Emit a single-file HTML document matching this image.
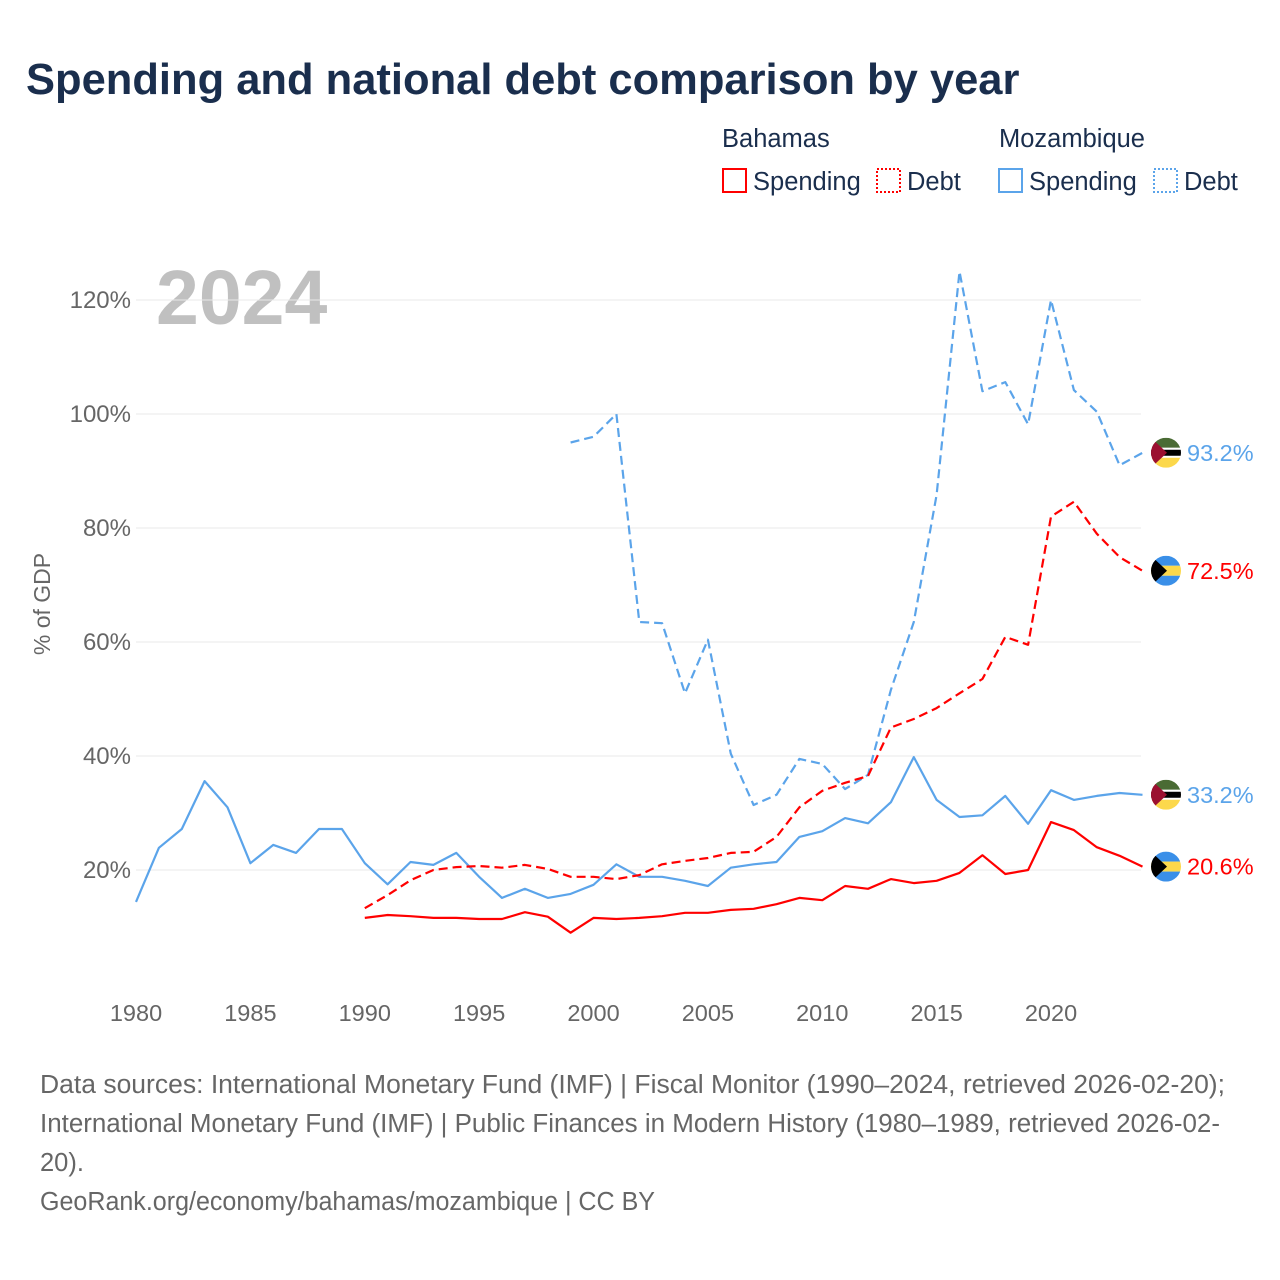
<!DOCTYPE html>
<html><head><meta charset="utf-8"><style>
body{margin:0;background:#fff;font-family:"Liberation Sans",sans-serif;}
#wrap{position:relative;width:1280px;height:1280px;overflow:hidden;}
</style></head><body>
<div id="wrap">
<svg id="chart" width="1280" height="1280" style="position:absolute;left:0;top:0">
<text x="26" y="94" font-size="43.5" font-weight="bold" fill="#1a2e4d">Spending and national debt comparison by year</text>
<g font-size="25.5" fill="#1a2e4d">
<text x="722" y="147">Bahamas</text>
<text x="999" y="147">Mozambique</text>
<g><rect x="723" y="169" width="23" height="23" fill="none" stroke="#f00" stroke-width="2"/><text x="753" y="190">Spending</text></g>
<g><rect x="877" y="169" width="23" height="23" fill="none" stroke="#f00" stroke-width="2" stroke-dasharray="2,2"/><text x="907" y="190">Debt</text></g>
<g><rect x="999" y="169" width="23" height="23" fill="none" stroke="#5ba4ea" stroke-width="2"/><text x="1029" y="190">Spending</text></g>
<g><rect x="1154" y="169" width="23" height="23" fill="none" stroke="#5ba4ea" stroke-width="2" stroke-dasharray="2,2"/><text x="1184" y="190">Debt</text></g>
</g>
<text x="156" y="324" font-size="77" font-weight="bold" fill="#c0c0c0">2024</text>
<text transform="translate(50,604) rotate(-90)" text-anchor="middle" font-size="23" fill="#666">% of GDP</text>
<g id="grid"></g><g id="xt"></g><g id="series"></g><g id="ends"></g>
<g font-size="25.5" fill="#666">
<text x="40" y="1093" textLength="1185" lengthAdjust="spacingAndGlyphs">Data sources: International Monetary Fund (IMF) | Fiscal Monitor (1990–2024, retrieved 2026-02-20);</text>
<text x="40" y="1132" textLength="1180" lengthAdjust="spacingAndGlyphs">International Monetary Fund (IMF) | Public Finances in Modern History (1980–1989, retrieved 2026-02-</text>
<text x="40" y="1171">20).</text>
<text x="40" y="1210" textLength="615" lengthAdjust="spacingAndGlyphs">GeoRank.org/economy/bahamas/mozambique | CC BY</text>
</g>
</svg></div>
<script>
const yTicks=[20,40,60,80,100,120];
const xTicks=[1980,1985,1990,1995,2000,2005,2010,2015,2020];
const mozSpendYears=[1980,1981,1982,1983,1984,1985,1986,1987,1988,1989,1990,1991,1992,1993,1994,1995,1996,1997,1998,1999,2000,2001,2002,2003,2004,2005,2006,2007,2008,2009,2010,2011,2012,2013,2014,2015,2016,2017,2018,2019,2020,2021,2022,2023,2024];
const mozSpend=[14.4,23.9,27.2,35.6,31,21.2,24.4,23,27.2,27.2,21.2,17.5,21.4,20.9,23,18.8,15.1,16.7,15.1,15.8,17.4,21,18.8,18.8,18.1,17.2,20.4,21,21.4,25.8,26.8,29.1,28.2,31.9,39.8,32.3,29.3,29.6,33,28.1,34,32.3,33,33.5,33.2];
const bahYears=[1990,1991,1992,1993,1994,1995,1996,1997,1998,1999,2000,2001,2002,2003,2004,2005,2006,2007,2008,2009,2010,2011,2012,2013,2014,2015,2016,2017,2018,2019,2020,2021,2022,2023,2024];
const bahSpend=[11.6,12.1,11.9,11.6,11.6,11.4,11.4,12.6,11.8,9,11.6,11.4,11.6,11.9,12.5,12.5,13,13.2,14,15.1,14.7,17.2,16.7,18.4,17.7,18.1,19.5,22.6,19.3,20,28.4,27,24,22.5,20.6];
const bahDebt=[13.3,15.6,18.2,20,20.5,20.7,20.4,20.9,20.2,18.8,18.8,18.4,19.1,21,21.6,22.1,23,23.2,25.8,31,33.9,35.3,36.5,45,46.5,48.4,51,53.5,60.9,59.5,82,84.6,79,74.9,72.5];
const mozDebtYears=[1999,2000,2001,2002,2003,2004,2005,2006,2007,2008,2009,2010,2011,2012,2013,2014,2015,2016,2017,2018,2019,2020,2021,2022,2023,2024];
const mozDebt=[95,96,100,63.5,63.3,51,60.4,40.4,31.4,33.2,39.5,38.6,34.2,36.7,51.6,63.5,85.8,125,104,105.6,98.2,120,104.2,100.4,91,93.2];
const NS='http://www.w3.org/2000/svg';
const X=y=>136+(y-1980)*22.875, Y=v=>984-v*5.7;
function mk(t,a,p){const e=document.createElementNS(NS,t);for(const k in a)e.setAttribute(k,a[k]);document.getElementById(p).appendChild(e);return e;}
yTicks.forEach(v=>{
 const l=mk('line',{x1:136,x2:1141,y1:Y(v),y2:Y(v),stroke:'#e8e8e8','stroke-width':1},'grid');
 
 
 const t=mk('text',{x:131,y:Y(v)+8,'text-anchor':'end','font-size':24,fill:'#666'},'grid');t.textContent=v+'%';
 
 
});
xTicks.forEach(v=>{
 const t=mk('text',{x:X(v),y:1021,'text-anchor':'middle','font-size':23.5,fill:'#666'},'xt');t.textContent=v;
 
 
});
function line(yrs,vals,col,dash,name){
 const d=vals.map((v,i)=>(i?'L':'M')+X(yrs[i]).toFixed(1)+','+Y(v).toFixed(1)).join('');
 const p=mk('path',{d:d,fill:'none',stroke:col,'stroke-width':2.2,'stroke-linejoin':'round'},'series');
 if(dash)p.setAttribute('stroke-dasharray','9,5');
 
 
}
line(mozSpendYears,mozSpend,'#5ba4ea',false,'mozambique-spending-line');
line(mozDebtYears,mozDebt,'#5ba4ea',true,'mozambique-debt-line');
line(bahYears,bahSpend,'#f00',false,'bahamas-spending-line');
line(bahYears,bahDebt,'#f00',true,'bahamas-debt-line');
function flag(v,moz,col,name){
 const cx=1166,cy=Y(v);
 const g=mk('g',{},'ends');
 
 
 const id='c'+name;
 const cp=document.createElementNS(NS,'clipPath');cp.setAttribute('id',id);
 const c=document.createElementNS(NS,'circle');c.setAttribute('cx',cx);c.setAttribute('cy',cy);c.setAttribute('r',15);cp.appendChild(c);g.appendChild(cp);
 const h=document.createElementNS(NS,'g');h.setAttribute('clip-path','url(#'+id+')');g.appendChild(h);
 const r=(y,hh,f)=>{const e=document.createElementNS(NS,'rect');e.setAttribute('x',cx-15);e.setAttribute('y',y);e.setAttribute('width',30);e.setAttribute('height',hh);e.setAttribute('fill',f);h.appendChild(e);};
 if(moz){r(cy-15,10,'#4a6b34');r(cy-5,10,'#fff');r(cy-3,6,'#000');r(cy+5,10,'#fcd84b');}
 else{r(cy-15,10,'#3a8fe8');r(cy-5,10,'#fcd84b');r(cy+5,10,'#3a8fe8');}
 const tr=document.createElementNS(NS,'path');tr.setAttribute('d',`M${cx-15},${cy-15}L${cx+1},${cy}L${cx-15},${cy+15}Z`);tr.setAttribute('fill',moz?'#9b1030':'#000');h.appendChild(tr);
 const t=document.createElementNS(NS,'text');t.setAttribute('x',1187);t.setAttribute('y',cy+8);t.setAttribute('font-size',23.5);t.setAttribute('fill',col);t.textContent=v.toFixed(1)+'%';g.appendChild(t);
}
flag(mozDebt[mozDebt.length-1],true,'#5ba4ea','mozambique-debt-end-label');
flag(bahDebt[bahDebt.length-1],false,'#f00','bahamas-debt-end-label');
flag(mozSpend[mozSpend.length-1],true,'#5ba4ea','mozambique-spending-end-label');
flag(bahSpend[bahSpend.length-1],false,'#f00','bahamas-spending-end-label');
</script>
</body></html>
